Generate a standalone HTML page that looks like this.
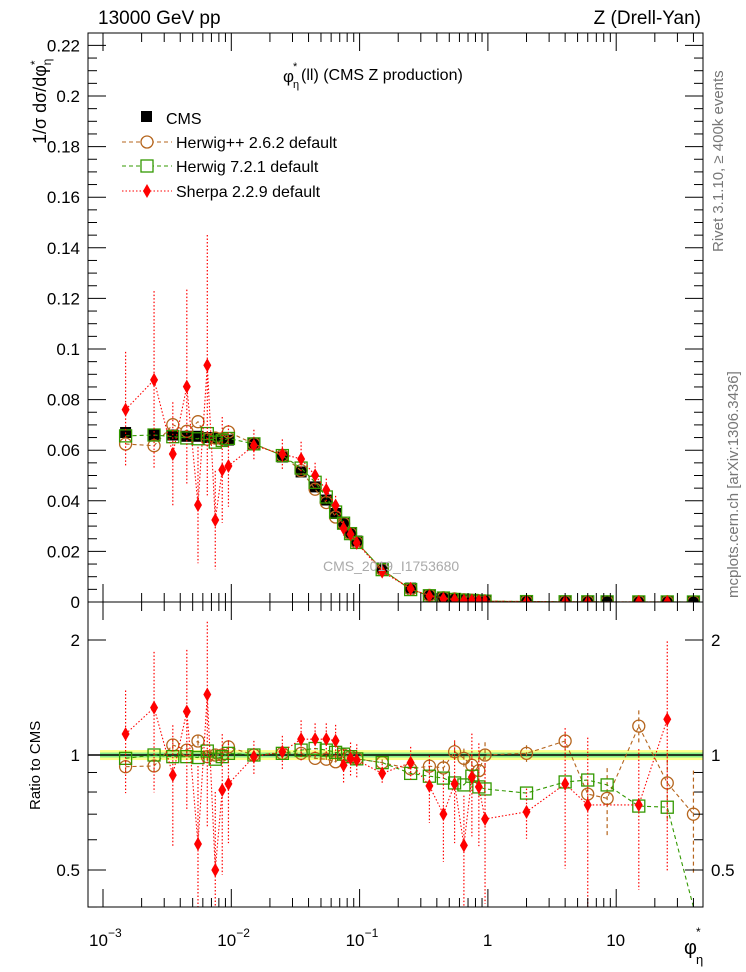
<!DOCTYPE html>
<html><head><meta charset="utf-8"><style>
html,body{margin:0;background:#fff;width:746px;height:972px;overflow:hidden;}
svg{display:block;font-family:"Liberation Sans",sans-serif;}
</style></head><body>
<svg id="c" width="746" height="972" viewBox="0 0 746 972"></svg>
<script>
const xs=[0.0015,0.0025,0.0035,0.0045,0.0055,0.0065,0.0075,0.0085,0.0095,0.015,0.025,0.035,0.045,0.055,0.065,0.075,0.085,0.095,0.15,0.25,0.35,0.45,0.55,0.65,0.75,0.85,0.95,2,4,6,8.5,15,25,40];
const cms=[0.067,0.066,0.066,0.0655,0.0655,0.065,0.0648,0.0645,0.064,0.0625,0.0573,0.0514,0.0455,0.0403,0.035,0.031,0.0273,0.0241,0.0134,0.0055,0.0028,0.0018,0.0012,0.0009,0.0007,0.0005,0.0004,0.0002,0.0001,0.00008,0.00006,0.00004,0.00003,0.00002];
const rHw=[0.932,0.936,1.062,1.03,1.088,0.99,1.0,1.0,1.05,1.0,1.01,1.01,0.98,0.975,0.96,1.0,0.99,0.977,0.955,0.92,0.935,0.925,1.02,0.98,0.94,0.91,1.0,1.01,1.088,0.79,0.77,1.19,0.845,0.70];
const rH7=[0.98,1.0,0.99,0.99,0.985,1.024,0.975,0.99,1.01,1.0,1.01,1.03,1.04,1.03,1.016,1.005,0.99,0.977,0.955,0.895,0.88,0.87,0.845,0.835,0.88,0.825,0.815,0.795,0.85,0.86,0.835,0.735,0.73,0.3];
const rSh=[1.135,1.33,0.886,1.30,0.585,1.44,0.5,0.81,0.84,0.99,1.02,1.10,1.10,1.10,1.09,0.94,0.98,0.97,0.895,0.955,0.83,0.70,0.84,0.58,0.875,0.825,0.68,0.71,0.84,0.74,null,0.74,1.24,null];
const eSh=[0.3,0.4,0.35,0.45,0.6,0.55,0.6,0.4,0.3,0.1,0.1,0.12,0.1,0.1,0.1,0.1,0.1,0.1,0.06,0.1,0.2,0.25,0.3,0.35,0.3,0.3,0.4,0.15,0.4,0.5,0,0.4,0.6,0];
const eHw=[0.03,0.03,0.04,0.04,0.04,0.04,0.04,0.04,0.04,0.02,0.02,0.02,0.02,0.02,0.02,0.02,0.02,0.02,0.02,0.03,0.04,0.05,0.06,0.06,0.07,0.08,0.08,0.05,0.05,0.08,0.2,0.1,0.2,0.3];
const yTicksMain=[0,0.02,0.04,0.06,0.08,0.1,0.12,0.14,0.16,0.18,0.2,0.22];
const yTickLabelsMain=["0","0.02","0.04","0.06","0.08","0.1","0.12","0.14","0.16","0.18","0.2","0.22"];
const rTicks=[0.5,1,2];

const L=88,R=703,T=33,MB=602,RB=907;
const X=v=>103+(Math.log10(v)+3)*128.3;
const Y=v=>MB-v*2530;
const RY=v=>755-Math.log2(v)*115;
const clampM=y=>Math.max(T,Math.min(MB,y));
const clampR=y=>Math.max(MB,Math.min(RB,y));
const svg=document.getElementById('c');
const NS='http://www.w3.org/2000/svg';
function mk(t,a,p){const e=document.createElementNS(NS,t);for(const k in a)e.setAttribute(k,a[k]);(p||svg).appendChild(e);return e;}
function txt(s,x,y,a){const e=mk('text',Object.assign({x:x,y:y,'font-size':17},a||{}));e.textContent=s;return e;}

const defs=mk('defs',{});
const c1=mk('clipPath',{id:'cm'},defs);mk('rect',{x:L,y:T,width:R-L,height:MB-T},c1);
const c2=mk('clipPath',{id:'cr'},defs);mk('rect',{x:L,y:MB,width:R-L,height:RB-MB},c2);

const gR=mk('g',{'clip-path':'url(#cr)'});

mk('rect',{x:100,y:RY(1.03),width:R-100,height:RY(0.97)-RY(1.03),fill:'#ffff88'},gR);
mk('rect',{x:100,y:RY(1.015),width:R-100,height:RY(0.985)-RY(1.015),fill:'#88ee88'},gR);
mk('line',{x1:L,x2:R,y1:RY(1),y2:RY(1),stroke:'#000','stroke-width':1.5},gR);

const gM=mk('g',{'clip-path':'url(#cm)'});


function series(g,vals,isRatio,color,dash,marker,name,errs){
  const sg=mk('g',{},g);
  
  
  const cl=isRatio?clampR:clampM;
  let pts=[];
  vals.forEach((r,i)=>{
    if(r===null)return;
    const v=isRatio?r:r*cms[i];
    const py=cl(isRatio?RY(v):Y(v));const px=X(xs[i]);
    pts.push(px+','+py);
    if(errs&&errs[i]>0){
      const lo=Math.max(v*(1-errs[i]),1e-6),hi=v*(1+errs[i]);
      const y1=cl(isRatio?RY(hi):Y(hi)),y2=cl(isRatio?RY(lo):Y(lo));
      mk('line',{x1:px,x2:px,y1:y1,y2:y2,stroke:color,'stroke-width':1.2,'stroke-dasharray':marker==='d'?'1.5,2':'4,3'},sg);
    }
  });
  mk('polyline',{points:pts.join(' '),fill:'none',stroke:color,'stroke-width':1.1,'stroke-dasharray':dash},sg);
  vals.forEach((r,i)=>{
    if(r===null)return;
    const v=isRatio?r:r*cms[i];
    const raw=isRatio?RY(v):Y(v);
    if(raw!==cl(raw))return;
    const py=raw;const px=X(xs[i]);
    let m;
    if(marker==='o')m=mk('circle',{cx:px,cy:py,r:6,fill:'none',stroke:color,'stroke-width':1.3},sg);
    else if(marker==='s')m=mk('rect',{x:px-6,y:py-6,width:12,height:12,fill:'none',stroke:color,'stroke-width':1.3},sg);
    else m=mk('path',{d:`M${px},${py-7}L${px+4},${py}L${px},${py+7}L${px-4},${py}Z`,fill:color},sg);
    
    
  });
}
const cg=mk('g',{},gM);


cms.forEach((v,i)=>{const r=mk('rect',{x:X(xs[i])-5.5,y:Y(v)-5.5,width:11,height:11,fill:'#000'},cg);

});
series(gM,rHw,false,'#b5651d','4,3','o','herwigpp-series',null);
series(gM,rH7,false,'#339900','4,3','s','herwig7-series',null);
series(gM,rSh,false,'#ff0000','1.5,2','d','sherpa-series',eSh);
series(gR,rHw,true,'#b5651d','4,3','o','herwigpp-ratio',eHw);
series(gR,rH7,true,'#339900','4,3','s','herwig7-ratio',null);
series(gR,rSh,true,'#ff0000','1.5,2','d','sherpa-ratio',eSh);

mk('rect',{x:L,y:T,width:R-L,height:MB-T,fill:'none',stroke:'#000','stroke-width':1});
mk('rect',{x:L,y:MB,width:R-L,height:RB-MB,fill:'none',stroke:'#000','stroke-width':1});

for(let v=0;v<=0.2245;v+=0.005){const y=Y(v);const major=Math.abs(v/0.02-Math.round(v/0.02))<1e-6;const len=major?18:9;
mk('line',{x1:L,x2:L+len,y1:y,y2:y,stroke:'#000'});mk('line',{x1:R-len,x2:R,y1:y,y2:y,stroke:'#000'});}
yTicksMain.forEach((v,i)=>{const t=txt(yTickLabelsMain[i],80,Y(v)+6,{'text-anchor':'end'});});
[0.4,0.5,0.6,0.7,0.8,0.9,1,2].forEach(v=>{const y=RY(v);const major=rTicks.includes(v);const len=major?18:9;
mk('line',{x1:L,x2:L+len,y1:y,y2:y,stroke:'#000'});mk('line',{x1:R-len,x2:R,y1:y,y2:y,stroke:'#000'});});
rTicks.forEach(v=>{txt(String(v),80,RY(v)+6,{'text-anchor':'end'});txt(String(v),711,RY(v)+6);});
for(let d=-3;d<=1;d++){for(let k=1;k<10;k++){const v=k*Math.pow(10,d);const x=X(v);if(x<L||x>R)continue;const len=k===1?18:9;
[[MB,MB-len],[MB,MB+len],[RB,RB-len],[T,T+len]].forEach(([a,b])=>mk('line',{x1:x,x2:x,y1:a,y2:b,stroke:'#000'}));}}
const xl=[[0.001,'10','−3'],[0.01,'10','−2'],[0.1,'10','−1']];
xl.forEach(([v,b,e])=>{const t=txt(b,X(v)-14,946);txt(e,X(v)+5,937,{'font-size':12});});
txt('1',X(1)-5,946);txt('10',X(10)-10,946);

txt('13000 GeV pp',98,24,{'font-size':19});
txt('Z (Drell-Yan)',701,24,{'font-size':19,'text-anchor':'end'});
txt('φ',283,82,{'font-size':17});txt('*',293,70,{'font-size':11});txt('η',293,88,{'font-size':11});
txt('(ll) (CMS Z production)',301,80,{'font-size':16});
txt('CMS_2019_I1753680',323,571,{'font-size':14,fill:'#aaaaaa'});
const yt=mk('text',{transform:'translate(46,144) rotate(-90)','font-size':18});

yt.appendChild(document.createTextNode('1/σ dσ/dφ'));
const ts1=mk('tspan',{'font-size':12,dy:'-7'},yt);ts1.textContent='*';
const ts2=mk('tspan',{'font-size':12,dx:'-5',dy:'12'},yt);ts2.textContent='η';
const rt=mk('text',{transform:'translate(40,810) rotate(-90)','font-size':15});rt.textContent='Ratio to CMS';

const xt=txt('φ',684,954,{'font-size':20});
txt('*',696,936,{'font-size':12});txt('η',696,964,{'font-size':13});
const s1=mk('text',{transform:'translate(723,252) rotate(-90)','font-size':15,fill:'#777'});s1.textContent='Rivet 3.1.10, ≥ 400k events';
const s2=mk('text',{transform:'translate(738,598) rotate(-90)','font-size':15,fill:'#777'});s2.textContent='mcplots.cern.ch [arXiv:1306.3436]';

const lg=mk('g',{});


mk('rect',{x:141,y:111,width:11,height:11,fill:'#000'},lg);
txt('CMS',166,124,{'font-size':16});
mk('line',{x1:122,x2:172,y1:142,y2:142,stroke:'#b5651d','stroke-dasharray':'4,3'},lg);mk('circle',{cx:147,cy:142,r:6,fill:'#fff',stroke:'#b5651d','stroke-width':1.3},lg);
txt('Herwig++ 2.6.2 default',176,148,{'font-size':16});
mk('line',{x1:122,x2:172,y1:166,y2:166,stroke:'#339900','stroke-dasharray':'4,3'},lg);mk('rect',{x:141,y:160,width:12,height:12,fill:'#fff',stroke:'#339900','stroke-width':1.3},lg);
txt('Herwig 7.2.1 default',176,172,{'font-size':16});
mk('line',{x1:122,x2:172,y1:191,y2:191,stroke:'#f00','stroke-dasharray':'1.5,2'},lg);mk('path',{d:'M147,184L151,191L147,198L143,191Z',fill:'#f00'},lg);
txt('Sherpa 2.2.9 default',176,197,{'font-size':16});
</script>
</body></html>
